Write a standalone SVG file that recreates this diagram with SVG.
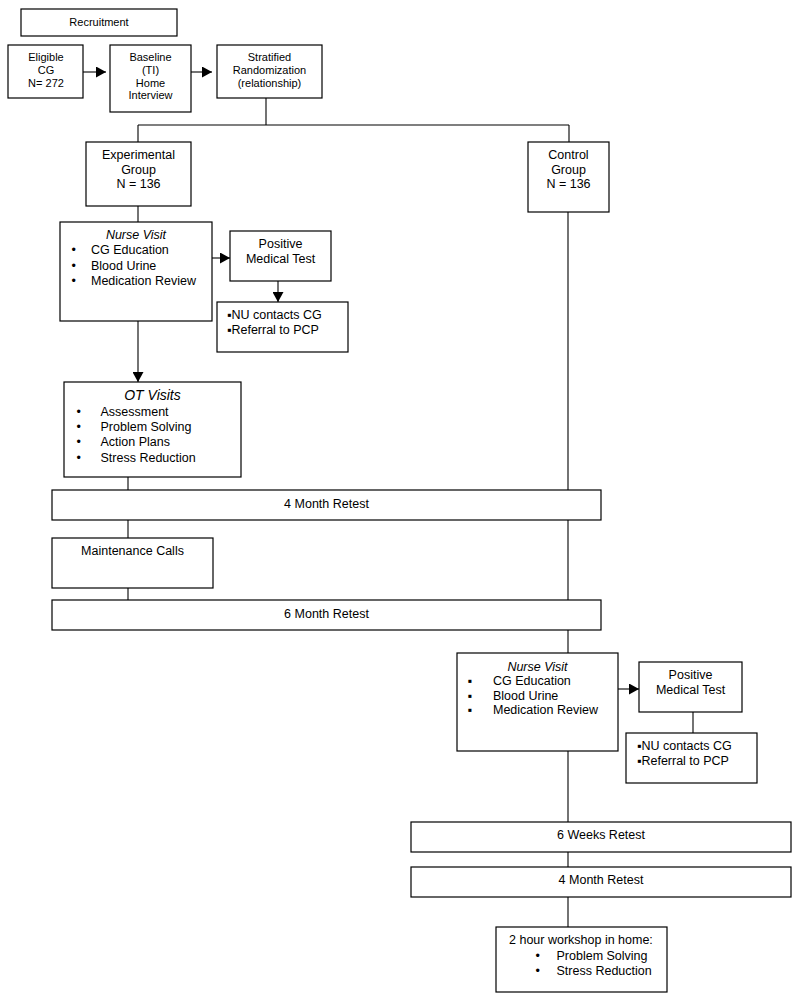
<svg xmlns="http://www.w3.org/2000/svg" width="800" height="1000" viewBox="0 0 800 1000">
<defs>
<marker id="arr" markerUnits="userSpaceOnUse" markerWidth="11" markerHeight="11" refX="10" refY="5.5" orient="auto"><path d="M0,0 L10,5.5 L0,11 z" fill="#000"/></marker>
<style>
rect{fill:#fff;stroke:#000;stroke-width:1.2}
rect.bg{stroke:none}
text{font-family:"Liberation Sans",Arial,sans-serif;font-size:12.5px;fill:#000}
.s{font-size:11px}
.c{text-anchor:middle}
.i{font-style:italic}
.t{font-size:14px}
line,path.l{stroke:#000;stroke-width:1.1;fill:none}
</style>
</defs>
<rect class="bg" width="800" height="1000"/>
<g id="connectors">
<line x1="83" y1="72" x2="106" y2="72" marker-end="url(#arr)"/>
<line x1="191" y1="72" x2="212" y2="72" marker-end="url(#arr)"/>
<path class="l" d="M266,98 V125 M138,125 H569 M138,125 V142 M569,125 V142"/>
<line x1="138" y1="206" x2="138" y2="222"/>
<line x1="212" y1="258" x2="230" y2="258" marker-end="url(#arr)"/>
<line x1="278" y1="281" x2="278" y2="302" marker-end="url(#arr)"/>
<line x1="138" y1="321" x2="138" y2="382" marker-end="url(#arr)"/>
<line x1="128" y1="477" x2="128" y2="490"/>
<line x1="128" y1="520" x2="128" y2="538"/>
<line x1="128" y1="588" x2="128" y2="600"/>
<line x1="568" y1="212" x2="568" y2="653"/>
<line x1="618" y1="689" x2="639" y2="689" marker-end="url(#arr)"/>
<line x1="693" y1="712" x2="693" y2="733"/>
<line x1="568" y1="751" x2="568" y2="927"/>
</g>
<g id="recruitment"><rect x="21" y="9" width="156" height="27"/><text class="s c" x="99" y="26">Recruitment</text></g>
<g id="eligible"><rect x="8" y="45" width="75" height="53"/><text class="s c" x="46" y="61">Eligible</text><text class="s c" x="46" y="74">CG</text><text class="s c" x="46" y="86.5">N= 272</text></g>
<g id="baseline"><rect x="110" y="45" width="81" height="67"/><text class="s c" x="150.5" y="61">Baseline</text><text class="s c" x="150.5" y="74">(TI)</text><text class="s c" x="150.5" y="86.5">Home</text><text class="s c" x="150.5" y="98.5">Interview</text></g>
<g id="stratified"><rect x="217" y="45" width="105" height="53"/><text class="s c" x="269.5" y="61">Stratified</text><text class="s c" x="269.5" y="74">Randomization</text><text class="s c" x="269.5" y="86.5">(relationship)</text></g>
<g id="experimental"><rect x="86" y="142" width="105" height="64"/><text class="c" x="138.5" y="159">Experimental</text><text class="c" x="138.5" y="173.5">Group</text><text class="c" x="138.5" y="188">N = 136</text></g>
<g id="control"><rect x="528" y="142" width="81" height="70"/><text class="c" x="568.5" y="159">Control</text><text class="c" x="568.5" y="173.5">Group</text><text class="c" x="568.5" y="188">N = 136</text></g>
<g id="nurse-exp"><rect x="60" y="222" width="152" height="99"/><text class="c i" x="136" y="239">Nurse Visit</text>
<text x="71.5" y="254">•</text><text x="91" y="254">CG Education</text>
<text x="71.5" y="269.5">•</text><text x="91" y="269.5">Blood Urine</text>
<text x="71.5" y="284.5">•</text><text x="91" y="284.5">Medication Review</text></g>
<g id="positive-exp"><rect x="230" y="231" width="101" height="50"/><text class="c" x="280.5" y="247.5">Positive</text><text class="c" x="280.5" y="262.5">Medical Test</text></g>
<g id="nu-exp"><rect x="217" y="302" width="131" height="50"/><text x="227" y="319">▪NU contacts CG</text><text x="227" y="333.5">▪Referral to PCP</text></g>
<g id="ot"><rect x="64" y="382" width="177" height="95"/><text class="c i t" x="152.5" y="400">OT Visits</text>
<text x="76.5" y="415.5">•</text><text x="100.5" y="415.5">Assessment</text>
<text x="76.5" y="430.5">•</text><text x="100.5" y="430.5">Problem Solving</text>
<text x="76.5" y="446">•</text><text x="100.5" y="446">Action Plans</text>
<text x="76.5" y="461.5">•</text><text x="100.5" y="461.5">Stress Reduction</text></g>
<g id="retest4-exp"><rect x="52" y="490" width="549" height="30"/><text class="c" x="326.5" y="507.5">4 Month Retest</text></g>
<g id="maintenance"><rect x="52" y="538" width="161" height="50"/><text class="c" x="132.5" y="555">Maintenance Calls</text></g>
<g id="retest6"><rect x="52" y="600" width="549" height="30"/><text class="c" x="326.5" y="617.5">6 Month Retest</text></g>
<g id="nurse-ctl"><rect x="457" y="653" width="161" height="98"/><text class="c i" x="537.5" y="670.5">Nurse Visit</text>
<text x="467.5" y="685">▪</text><text x="493" y="685">CG Education</text>
<text x="467.5" y="699.5">▪</text><text x="493" y="699.5">Blood Urine</text>
<text x="467.5" y="713.5">▪</text><text x="493" y="713.5">Medication Review</text></g>
<g id="positive-ctl"><rect x="639" y="662" width="103" height="50"/><text class="c" x="690.5" y="678.5">Positive</text><text class="c" x="690.5" y="693.5">Medical Test</text></g>
<g id="nu-ctl"><rect x="626" y="733" width="131" height="50"/><text x="637" y="750">▪NU contacts CG</text><text x="637" y="764.5">▪Referral to PCP</text></g>
<g id="retest6w"><rect x="411" y="822" width="380" height="30"/><text class="c" x="601" y="838.5">6 Weeks Retest</text></g>
<g id="retest4-ctl"><rect x="411" y="867" width="380" height="30"/><text class="c" x="601" y="884">4 Month Retest</text></g>
<g id="workshop"><rect x="496" y="927" width="171" height="65"/><text x="509" y="944">2 hour workshop in home:</text>
<text x="535.5" y="959.5">•</text><text x="556.5" y="959.5">Problem Solving</text>
<text x="535.5" y="974.5">•</text><text x="556.5" y="974.5">Stress Reduction</text></g>
</svg>
